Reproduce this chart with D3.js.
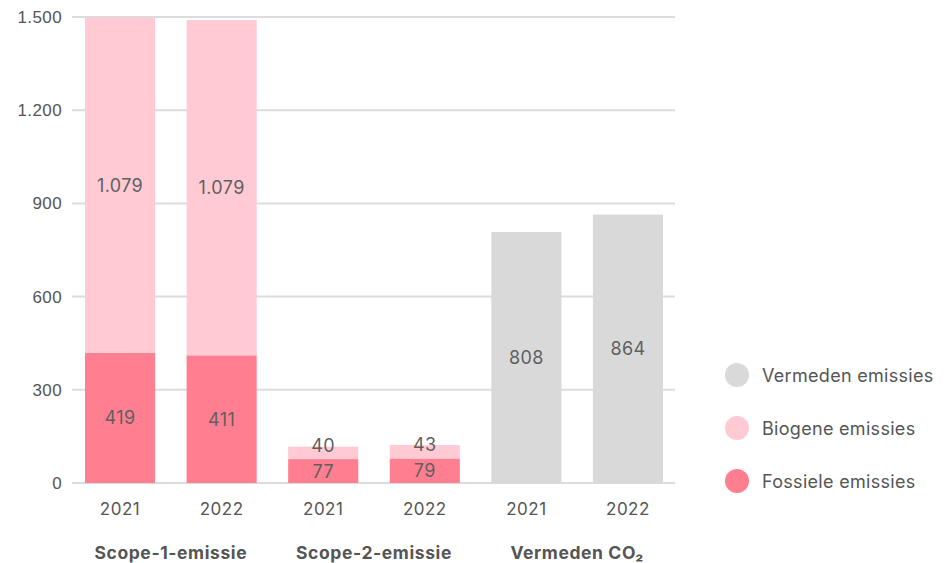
<!DOCTYPE html>
<html lang="nl">
<head>
    <meta charset="UTF-8">
    <title>Emissies</title>
    <script src="https://d3js.org/d3.v7.min.js"></script>
    <style>
        body { margin: 0; background: #fff; font-family: Inter, "Noto Sans", sans-serif; }
        svg { display: block; }
        .tick text { fill: #555; font-size: 17px; letter-spacing: 0.4px; }
        .val { fill: #5f5f5f; font-size: 18px; letter-spacing: 0.4px; text-anchor: middle; dominant-baseline: central; }
        .year { fill: #555; font-size: 17px; letter-spacing: 0.5px; text-anchor: middle; }
        .group { fill: #555; font-size: 17.5px; letter-spacing: 0.6px; font-weight: 700; text-anchor: middle; }
        .legend-label { fill: #555; font-size: 18px; letter-spacing: 0.3px; dominant-baseline: central; }
    </style>
</head>
<body>
    <svg id="chart"></svg>
    <script>
        // data
        const groups = ["Scope-1-emissie", "Scope-2-emissie", "Vermeden CO\u2082"];
        const years = ["2021", "2022"];
        const fossiel = [419, 411, 77, 79, 0, 0];
        const biogeen = [1079, 1079, 40, 43, 0, 0];
        const vermeden = [0, 0, 0, 0, 808, 864];
        const yTicks = [0, 300, 600, 900, 1200, 1500];
        const legendItems = ["Vermeden emissies", "Biogene emissies", "Fossiele emissies"];
        const colors = { "Vermeden emissies": "#d9d9d9", "Biogene emissies": "#ffcad3", "Fossiele emissies": "#ff7f91" };

        const width = 951, height = 563;
        const margin = { left: 72, right: 276, top: 17, bottom: 80 };
        const svg = d3.select("#chart").attr("width", width).attr("height", height);

        const bars = [];
        groups.forEach((g, gi) => years.forEach((yr, yi) => {
            const i = gi * 2 + yi;
            bars.push({ key: g + "|" + yr, group: g, year: yr, fossiel: fossiel[i], biogeen: biogeen[i], vermeden: vermeden[i] });
        }));

        const x = d3.scaleBand()
            .domain(bars.map(d => d.key))
            .range([85, 663])
            .paddingInner(0.31)
            .paddingOuter(0);

        const y = d3.scaleLinear()
            .domain([0, 1500])
            .range([height - margin.bottom, margin.top]);

        // grid
        svg.append("g")
            .selectAll("line")
            .data(yTicks)
            .enter().append("line")
            .attr("x1", margin.left)
            .attr("x2", width - margin.right)
            .attr("y1", d => y(d))
            .attr("y2", d => y(d))
            .attr("stroke", "#dcdcdc")
            .attr("stroke-width", 2);

        const fmt = v => d3.format(",")(v).replace(/,/g, ".");

        const yAxis = svg.append("g")
            .attr("transform", `translate(${margin.left},0)`)
            .call(d3.axisLeft(y).tickValues(yTicks).tickSize(0).tickPadding(10).tickFormat(fmt));
        yAxis.select(".domain").remove();
        yAxis.selectAll("text").style("font-family", "inherit");

        const stack = d3.stack().keys(["fossiel", "biogeen", "vermeden"])(bars);
        const fill = { fossiel: colors["Fossiele emissies"], biogeen: colors["Biogene emissies"], vermeden: colors["Vermeden emissies"] };

        stack.forEach(layer => {
            svg.append("g")
                .selectAll("rect")
                .data(layer.filter(s => s[1] > s[0]))
                .enter().append("rect")
                .attr("x", s => x(s.data.key))
                .attr("width", x.bandwidth())
                .attr("y", s => y(s[1]))
                .attr("height", s => y(s[0]) - y(s[1]))
                .attr("fill", fill[layer.key]);
        });

        // value labels; keep small segments from colliding with the one below
        bars.forEach(b => {
            let prevY = null;
            stack.forEach(layer => {
                const s = layer.find(s => s.data.key === b.key);
                if (s[1] <= s[0]) return;
                let cy = (y(s[0]) + y(s[1])) / 2;
                if (prevY !== null) cy = Math.min(cy, prevY - 26);
                prevY = cy;
                svg.append("text")
                    .attr("class", "val")
                    .attr("x", x(b.key) + x.bandwidth() / 2)
                    .attr("y", cy)
                    .text(fmt(s[1] - s[0]));
            });
        });

        // year labels
        svg.append("g")
            .selectAll("text")
            .data(bars)
            .enter().append("text")
            .attr("class", "year")
            .attr("x", d => x(d.key) + x.bandwidth() / 2)
            .attr("y", 515)
            .text(d => d.year);

        // group labels
        svg.append("g")
            .selectAll("text")
            .data(groups)
            .enter().append("text")
            .attr("class", "group")
            .attr("x", (g, gi) => (x(bars[gi * 2].key) + x(bars[gi * 2 + 1].key) + x.bandwidth()) / 2)
            .attr("y", 559)
            .text(d => d);

        // legend
        const legend = svg.append("g").attr("transform", "translate(737,375)");
        const li = legend.selectAll("g")
            .data(legendItems)
            .enter().append("g")
            .attr("transform", (d, i) => `translate(0,${i * 53})`);
        li.append("circle").attr("r", 12).attr("fill", d => colors[d]);
        li.append("text").attr("class", "legend-label").attr("x", 25).attr("y", 0).text(d => d);
    </script>
</body>
</html>
